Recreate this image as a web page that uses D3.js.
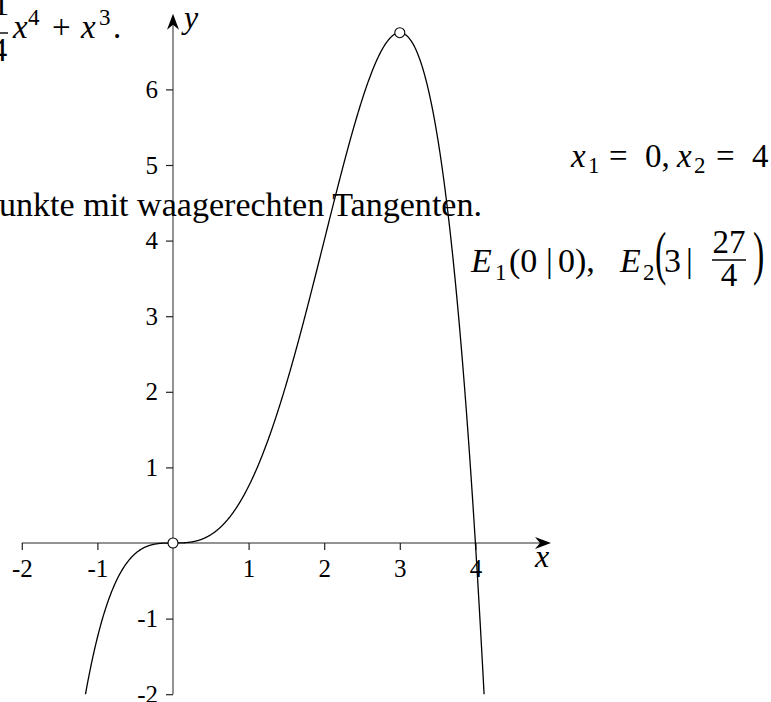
<!DOCTYPE html>
<html>
<head>
<meta charset="utf-8">
<script src="https://cdn.jsdelivr.net/npm/d3@7"></script>
<style>
  html, body { margin: 0; padding: 0; background: #fff; overflow: hidden; }
  svg { display: block; }
  text { font-family: "Liberation Serif", "Times New Roman", serif; fill: #000; }
  .it { font-style: italic; }
</style>
</head>
<body>
<svg id="chart" width="771" height="702"></svg>
<script>
// f(x) = -1/4 x^4 + x^3, coefficients from x^0 upward
const coefficients = [0, 0, 0, 1, -0.25];
// plotted part of the graph (clipped at the lower edge y = -2)
const curveDomain = [-1.25, 4.2];
// extreme points with horizontal tangents: E1(0 | 0), E2(3 | 27/4)
const extremaX = [0, 3];
const extremaY = [0, 27 / 4];
// axis ranges and ticks
const xAxisRange = [-2, 5];
const yAxisRange = [-2, 7];
const xTicks = [-2, -1, 1, 2, 3, 4];
const yTicks = [-2, -1, 1, 2, 3, 4, 5, 6];

const unit = 75.6;
const ox = 173, oy = 543;

const svg = d3.select("#chart");

const x = d3.scaleLinear()
  .domain(xAxisRange)
  .range([ox + xAxisRange[0] * unit, ox + xAxisRange[1] * unit]);
const y = d3.scaleLinear()
  .domain(yAxisRange)
  .range([oy - yAxisRange[0] * unit, oy - yAxisRange[1] * unit]);

const f = t => coefficients.reduce((s, c, i) => s + c * Math.pow(t, i), 0);

// ---- axes ----
const axisColor = "#6f6f6f";
const g = svg.append("g");

g.append("line")
  .attr("x1", x(xAxisRange[0])).attr("y1", y(0))
  .attr("x2", x(xAxisRange[1]) - 8).attr("y2", y(0))
  .attr("stroke", axisColor).attr("stroke-width", 1.5);
g.append("line")
  .attr("x1", x(0)).attr("y1", y(yAxisRange[0]))
  .attr("x2", x(0)).attr("y2", y(yAxisRange[1]) + 8)
  .attr("stroke", axisColor).attr("stroke-width", 1.5);

// arrow heads (stealth shape)
function arrow(tx, ty, angle) {
  const len = 16, half = 6, notch = 11;
  const p = `M0,0 L${-len},${-half} L${-notch},0 L${-len},${half} Z`;
  g.append("path")
    .attr("d", p)
    .attr("transform", `translate(${tx},${ty}) rotate(${angle})`)
    .attr("fill", "#000");
}
arrow(x(xAxisRange[1]), y(0), 0);
arrow(x(0), y(yAxisRange[1]), -90);

// x ticks and labels
const xAxis = d3.axisBottom(x)
  .tickValues(xTicks)
  .tickSize(7)
  .tickSizeOuter(0)
  .tickPadding(9)
  .tickFormat(d => String(d));
const gx = g.append("g").attr("transform", `translate(0,${y(0)})`).call(xAxis);
gx.select(".domain").remove();
gx.selectAll(".tick line").attr("stroke", "#222").attr("stroke-width", 1.2);
gx.selectAll(".tick text")
  .attr("font-family", "Liberation Serif, serif")
  .attr("font-size", 25)
  .attr("fill", "#000");

// y ticks and labels
const yAxis = d3.axisLeft(y)
  .tickValues(yTicks)
  .tickSize(7)
  .tickSizeOuter(0)
  .tickPadding(8)
  .tickFormat(d => String(d));
const gy = g.append("g").attr("transform", `translate(${x(0)},0)`).call(yAxis);
gy.select(".domain").remove();
gy.selectAll(".tick line").attr("stroke", "#222").attr("stroke-width", 1.2);
gy.selectAll(".tick text")
  .attr("font-family", "Liberation Serif, serif")
  .attr("font-size", 25)
  .attr("fill", "#000");

// axis names
svg.append("text").attr("class", "it")
  .attr("x", 535).attr("y", 567).attr("font-size", 32).text("x");
svg.append("text").attr("class", "it")
  .attr("x", 184).attr("y", 28).attr("font-size", 32).text("y");

// ---- graph of f ----
svg.append("clipPath").attr("id", "plotClip")
  .append("rect")
  .attr("x", 0).attr("y", 0)
  .attr("width", 771).attr("height", y(yAxisRange[0]));

const samples = d3.range(curveDomain[0], curveDomain[1] + 1e-9, 0.005)
  .map(t => [t, f(t)]);
svg.append("path")
  .datum(samples)
  .attr("clip-path", "url(#plotClip)")
  .attr("fill", "none")
  .attr("stroke", "#000")
  .attr("stroke-width", 1.3)
  .attr("d", d3.line().x(d => x(d[0])).y(d => y(d[1])));

// extreme points
svg.selectAll("circle.ext")
  .data(extremaX.map((v, i) => [v, extremaY[i]]))
  .join("circle")
  .attr("class", "ext")
  .attr("cx", d => x(d[0])).attr("cy", d => y(d[1]))
  .attr("r", 5)
  .attr("fill", "#fff")
  .attr("stroke", "#000")
  .attr("stroke-width", 1.1);

// ---- accompanying text ----
const big = 33, small = 23;

// top: -1/4 x^4 + x^3.
const t1 = svg.append("g");
t1.append("text").attr("x", 1).attr("y", 15).attr("font-size", big)
  .attr("text-anchor", "middle").text("1");
t1.append("line").attr("x1", -10).attr("x2", 8).attr("y1", 33).attr("y2", 33)
  .attr("stroke", "#000").attr("stroke-width", 1.4);
t1.append("text").attr("x", -1).attr("y", 61).attr("font-size", big)
  .attr("text-anchor", "middle").text("4");
const tf = t1.append("text").attr("y", 38).attr("font-size", big);
tf.append("tspan").attr("class", "it").attr("x", 13).text("x");
tf.append("tspan").attr("x", 28).attr("y", 25).attr("font-size", small).text("4");
tf.append("tspan").attr("x", 52).attr("y", 38).text("+");
tf.append("tspan").attr("class", "it").attr("x", 81).text("x");
tf.append("tspan").attr("x", 99).attr("y", 25).attr("font-size", small).text("3");
tf.append("tspan").attr("x", 113).attr("y", 38).text(".");

// sentence
svg.append("text")
  .attr("x", -1).attr("y", 216)
  .attr("font-size", 34)
  .attr("textLength", 483)
  .attr("lengthAdjust", "spacingAndGlyphs")
  .text("unkte mit waagerechten Tangenten.");

// zeros: x1 = 0, x2 = 4
const z = svg.append("text").attr("y", 167).attr("font-size", big);
z.append("tspan").attr("class", "it").attr("x", 571).text("x");
z.append("tspan").attr("x", 588).attr("y", 173).attr("font-size", small).text("1");
z.append("tspan").attr("x", 609).attr("y", 167).text("=");
z.append("tspan").attr("x", 645).text("0,");
z.append("tspan").attr("class", "it").attr("x", 677).text("x");
z.append("tspan").attr("x", 694).attr("y", 173).attr("font-size", small).text("2");
z.append("tspan").attr("x", 716).attr("y", 167).text("=");
z.append("tspan").attr("x", 752).text("4");

// extrema: E1(0 | 0), E2(3 | 27/4)
const e = svg.append("g");
const e1 = e.append("text").attr("y", 272).attr("font-size", 34);
e1.append("tspan").attr("class", "it").attr("x", 471).text("E");
e1.append("tspan").attr("x", 495).attr("y", 280).attr("font-size", small).text("1");
e1.append("tspan").attr("x", 509).attr("y", 272).text("(0");
e1.append("tspan").attr("x", 546).text("|");
e1.append("tspan").attr("x", 558).text("0),");
e1.append("tspan").attr("class", "it").attr("x", 620).text("E");
e1.append("tspan").attr("x", 643).attr("y", 280).attr("font-size", small).text("2");
e1.append("tspan").attr("x", 664).attr("y", 272).text("3");
e1.append("tspan").attr("x", 686).text("|");
// tall parentheses around the fraction
e.append("text").attr("font-size", 34)
  .attr("transform", "translate(655,273) scale(1,1.75)").text("(");
e.append("text").attr("font-size", 34)
  .attr("transform", "translate(753,273) scale(1,1.75)").text(")");
e.append("text").attr("x", 729).attr("y", 253).attr("font-size", big)
  .attr("text-anchor", "middle").text("27");
e.append("line").attr("x1", 712).attr("x2", 746).attr("y1", 260).attr("y2", 260)
  .attr("stroke", "#000").attr("stroke-width", 1.4);
e.append("text").attr("x", 729).attr("y", 286).attr("font-size", big)
  .attr("text-anchor", "middle").text("4");
</script>
</body>
</html>
